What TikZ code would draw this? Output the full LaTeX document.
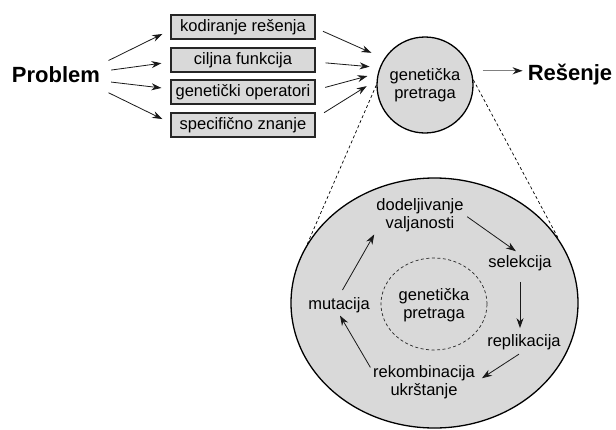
\documentclass[tikz,border=0pt]{standalone}
\usepackage{fontspec}
\setmainfont{Liberation Sans}
\usetikzlibrary{arrows.meta,shapes.geometric}
\begin{document}
\begin{tikzpicture}[x=1pt,y=-1pt,
  arr/.style={-{Stealth[length=10pt,width=7pt]}, line width=0.8pt, draw=black!90},
  box/.style={draw=black!85, line width=1.2pt, fill=black!15, minimum width=144pt, minimum height=24pt, inner sep=0pt, text height=11.5pt, text depth=3.5pt, font=\fontsize{16.5}{18}\selectfont},
  big/.style={font=\fontsize{22}{24}\selectfont\bfseries, inner sep=3pt},
  lbl/.style={align=center, font=\fontsize{16.5}{17.5}\selectfont, inner sep=1pt},
  dsh/.style={dashed, dash pattern=on 3pt off 2.5pt, line width=0.7pt}]
\useasboundingbox (0,0) rectangle (616,429);

% big ellipse
\node[ellipse, draw=black, line width=1.3pt, fill=black!15, minimum width=287pt, minimum height=250pt, inner sep=0pt] (E) at (434.5,303) {};
\node[ellipse, draw=black!85, dsh, minimum width=106pt, minimum height=92pt, inner sep=0pt] (ic) at (434,304) {};
\node[lbl] at (434,305) {genetička\\pretraga};

% top row
\node[big, anchor=base] (p) at (56,82) {Problem};
\node[big, anchor=base] (r) at (570,80) {Rešenje};
\node[box] (b1) at (243,27) {kodiranje rešenja};
\node[box] (b2) at (243,60) {ciljna funkcija};
\node[box] (b3) at (243,92) {genetički operatori};
\node[box] (b4) at (243,125) {specifično znanje};
\node[circle, draw=black, line width=1.3pt, fill=black!15, minimum size=96pt, inner sep=0pt, lbl] (c) at (425,85) {genetička\\pretraga};

% Problem -> boxes
\draw[arr, shorten <=6pt, shorten >=9pt] ([yshift=11pt]p.east) -- ([yshift=-3pt]b1.west);
\draw[arr, shorten <=8pt, shorten >=9pt] ([yshift=3pt]p.east) -- ([yshift=-2pt]b2.west);
\draw[arr, shorten <=8pt, shorten >=9pt] ([yshift=-7pt]p.east) -- ([yshift=3pt]b3.west);
\draw[arr, shorten <=6pt, shorten >=9pt] ([yshift=-16pt]p.east) -- ([yshift=2pt]b4.west);

% boxes -> circle
\draw[arr, shorten <=8pt, shorten >=14pt] ([yshift=-1pt]b1.east) -- (c.147.7);
\draw[arr, shorten <=10pt, shorten >=10pt] ([yshift=-2pt]b2.east) -- (c.159.3);
\draw[arr, shorten <=10pt, shorten >=10.7pt] ([yshift=2pt]b3.east) -- (c.166.7);
\draw[arr, shorten <=10pt, shorten >=11.7pt] ([yshift=7pt]b4.east) -- (c.174.2);

% circle -> Resenje
\draw[line width=1.4pt, draw=black!50, -{Stealth[length=10pt,width=7pt,color=black!90]}, shorten <=11pt, shorten >=2pt] (c.17) -- (c.17 -| r.west);

% zoom lines
\draw[dsh] (c.west) -- (E.155.5);
\draw[dsh] (c.6) -- (E.27);

% cycle
\node[lbl] (dv) at (420,215) {dodeljivanje\\valjanosti};
\node[lbl] (se) at (520,263) {selekcija};
\node[lbl] (re) at (524,342) {replikacija};
\node[lbl] (rk) at (424,382) {rekombinacija\\ukrštanje};
\node[lbl] (mu) at (339,305) {mutacija};

\draw[arr, shorten <=7pt, shorten >=2pt] (mu.north) -- (dv.south west);
\draw[arr, shorten <=3pt, shorten >=5pt] (dv.east) -- (se.north);
\draw[arr, shorten <=10pt, shorten >=5pt] (se.south) -- (se.south |- re.north);
\draw[arr, shorten <=6pt, shorten >=7pt] (re.south) -- (rk.east);
\draw[arr, shorten <=3pt, shorten >=2pt] ([yshift=12pt]rk.west) -- (mu.south);
\end{tikzpicture}
\end{document}
